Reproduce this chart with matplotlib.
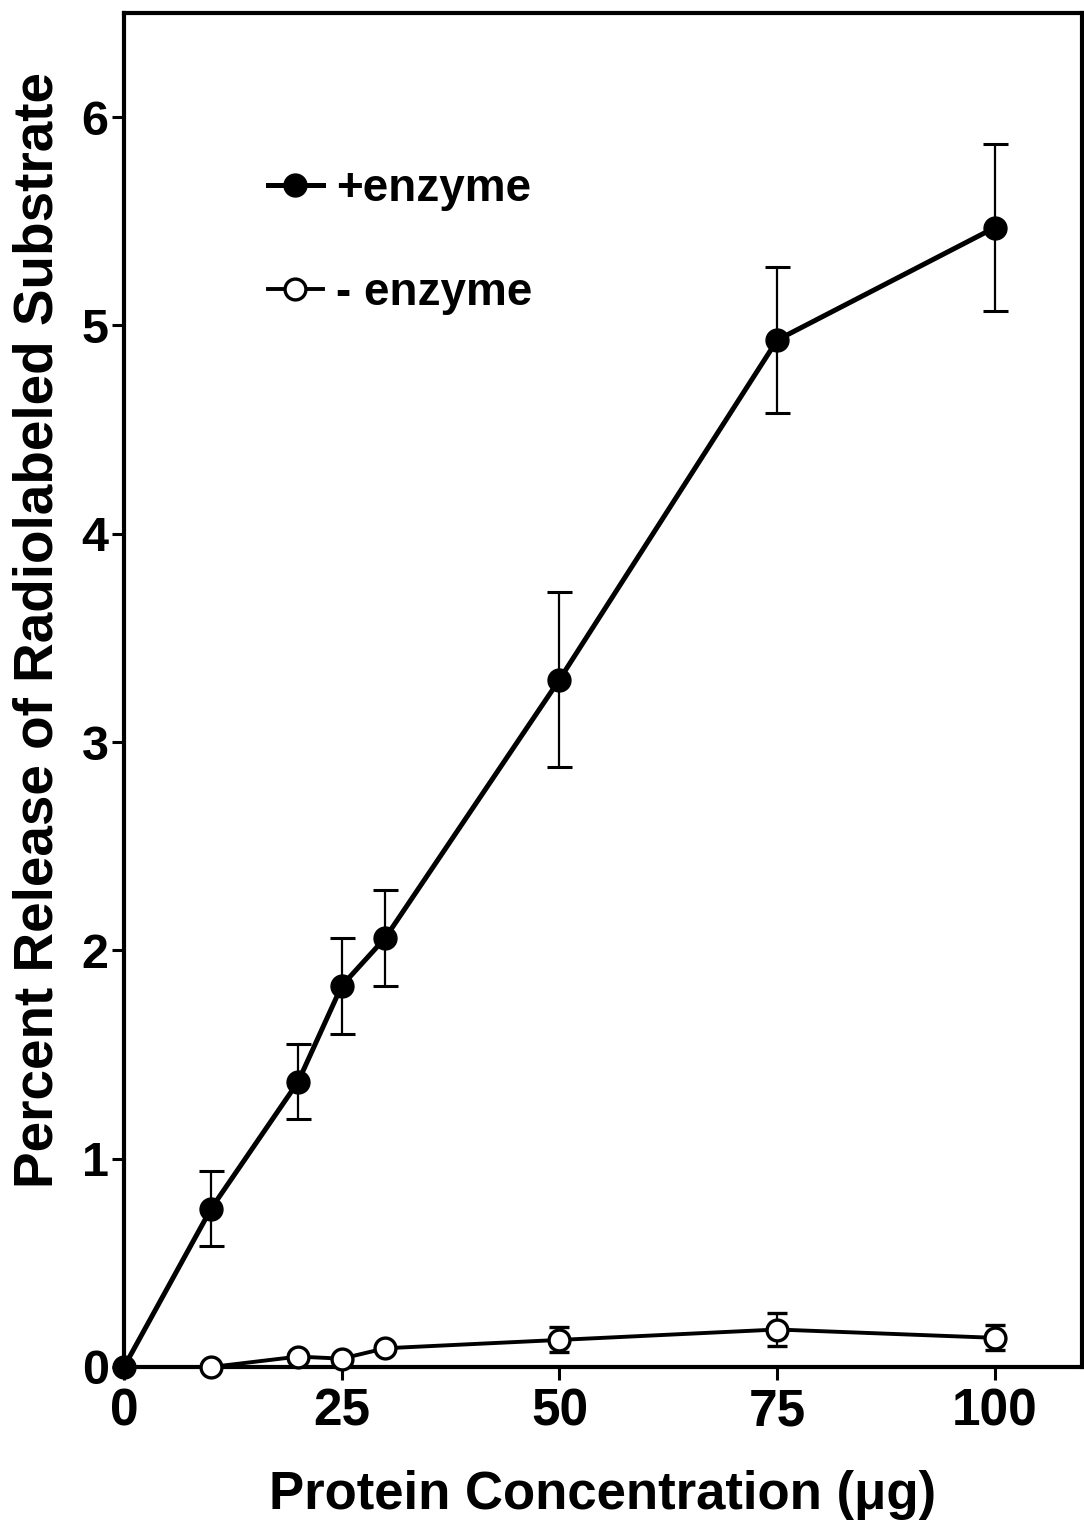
import numpy as np
import matplotlib
matplotlib.use("Agg")
import matplotlib.pyplot as plt

plt.rcParams['font.family'] = ['Liberation Sans', 'DejaVu Sans']
plt.rcParams['font.weight'] = 'bold'

# Protein amount (ug) and percent release with standard errors
conc_plus = [0, 10, 20, 25, 30, 50, 75, 100]
release_plus = [0.0, 0.76, 1.37, 1.83, 2.06, 3.30, 4.93, 5.47]
err_plus = [0.0, 0.18, 0.18, 0.23, 0.23, 0.42, 0.35, 0.40]

conc_minus = [10, 20, 25, 30, 50, 75, 100]
release_minus = [0.0, 0.05, 0.04, 0.09, 0.13, 0.18, 0.14]
err_minus = [0.0, 0.0, 0.0, 0.0, 0.06, 0.08, 0.06]

x_ticks = [0, 25, 50, 75, 100]
y_ticks = [0, 1, 2, 3, 4, 5, 6]
labels = ['+enzyme', '- enzyme']

fig = plt.figure(figsize=(10.84, 15.27), dpi=100)
ax = fig.add_axes([124 / 1084, 1 - 1367 / 1527, (1082 - 124) / 1084, (1367 - 13) / 1527])

xp, yp, ep = map(np.asarray, (conc_plus, release_plus, err_plus))
xm, ym, em = map(np.asarray, (conc_minus, release_minus, err_minus))

# error bars first so that the markers sit on top of them
mp = ep > 0
ax.errorbar(xp[mp], yp[mp], yerr=ep[mp], fmt='none', ecolor='black',
            elinewidth=1.6, capsize=9, capthick=2.2, zorder=2)
mm = em > 0
ax.errorbar(xm[mm], ym[mm], yerr=em[mm], fmt='none', ecolor='black',
            elinewidth=1.6, capsize=7.5, capthick=2.4, zorder=2)

l_plus, = ax.plot(xp, yp, '-o', color='black', lw=3.6, ms=16.5,
                  mfc='black', mec='black', zorder=4, clip_on=False)
l_minus, = ax.plot(xm, ym, '-o', color='black', lw=2.8, ms=15,
                   mfc='white', mec='black', mew=2.4, zorder=3, clip_on=False)

ax.set_xlim(0, 110)
ax.set_ylim(0, 6.5)
ax.set_xticks(x_ticks)
ax.set_yticks(y_ticks)
ax.tick_params(axis='both', direction='out', length=9, width=2.2)
ax.tick_params(axis='x', labelsize=37, pad=6)
ax.tick_params(axis='y', labelsize=35, pad=2)
for lab in ax.get_xticklabels() + ax.get_yticklabels():
    lab.set_fontweight('bold')
for s in ax.spines.values():
    s.set_linewidth(3)

ax.set_xlabel('Protein Concentration (\u03bcg)', fontsize=38,
              fontweight='bold', labelpad=24)
ax.set_ylabel('Percent Release of Radiolabeled Substrate', fontsize=39.5,
              fontweight='bold')
ax.yaxis.set_label_coords(-0.062, 0.544)

leg = ax.legend([l_plus, l_minus], labels, loc='upper left',
                bbox_to_anchor=(0.150, 0.886), frameon=False,
                fontsize=33, handlelength=1.2, handletextpad=0.3,
                labelspacing=1.3, borderpad=0, borderaxespad=0)
for t in leg.get_texts():
    t.set_fontweight('bold')

fig.savefig('out.png', dpi=100)
